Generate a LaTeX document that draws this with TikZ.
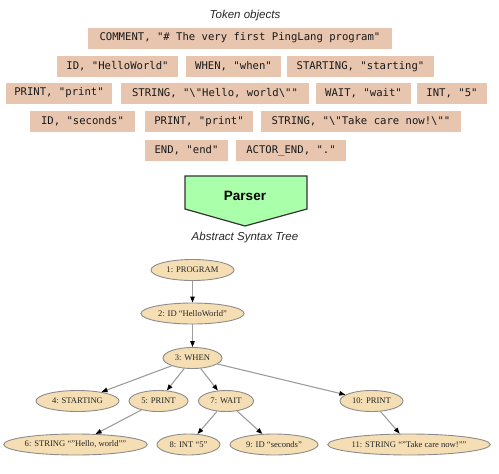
\documentclass[tikz,border=0pt]{standalone}
\usepackage{fontspec}
\setmainfont{Liberation Serif}
\setmonofont{DejaVu Sans Mono}
\newfontfamily\arialfont{Liberation Sans}
\usetikzlibrary{shapes.geometric, arrows.meta}

\definecolor{tokfill}{HTML}{E8C5AE}
\definecolor{astfill}{HTML}{F5DEB3}
\definecolor{astline}{HTML}{8C8C8C}
\definecolor{parsefill}{HTML}{AAFFAA}

\tikzset{
  token/.style={fill=tokfill, minimum height=21pt, inner sep=0pt,
    font=\ttfamily\fontsize{10.6}{12}\selectfont, text=black!90},
  astnode/.style={ellipse, draw=astline, fill=astfill, line width=0.9pt,
    minimum height=21pt, inner sep=0pt,
    font=\fontsize{8.6}{9}\selectfont, text=black!85},
  astedge/.style={draw=astline!85, line width=1.1pt,
    -{Triangle[length=6pt, width=4.5pt, color=black]}},
  caption/.style={font=\arialfont\itshape\fontsize{11.5}{13}\selectfont, text=black!85}
}

\begin{document}
\begin{tikzpicture}[x=1pt, y=-1pt]
    \useasboundingbox (0,0) rectangle (499,474);
    \node[caption] (tokcap) at (245,16) {Token objects};
    % token rows
    \node[token, minimum width=304pt] (comment) at (240,38) {COMMENT, "\# The very first PingLang program"};
    \node[token, minimum width=121pt] (tid) at (117.5,66.5) {ID, "HelloWorld"};
    \node[token, minimum width=95pt] (twhen) at (233.5,66.5) {WHEN, "when"};
    \node[token, minimum width=147pt] (tstart) at (360.5,66.5) {STARTING, "starting"};
    \node[token, minimum width=106pt] (tprint) at (59,93) {PRINT, "print"};
    \node[token, minimum width=188pt] (tstring) at (215,93) {STRING, "\textbackslash"Hello, world\textbackslash""};
    \node[token, minimum width=95pt] (twait) at (363.5,93) {WAIT, "wait"};
    \node[token, minimum width=70pt] (tint) at (452,93) {INT, "5"};
    \node[token, minimum width=105pt] (tsec) at (82.5,121.5) {ID, "seconds"};
    \node[token, minimum width=108pt] (tprinttwo) at (199,121.5) {PRINT, "print"};
    \node[token, minimum width=200pt] (tstringtwo) at (361,121.5) {STRING, "\textbackslash"Take care now!\textbackslash""};
    \node[token, minimum width=83pt] (tend) at (186.5,150.5) {END, "end"};
    \node[token, minimum width=110pt] (tactor) at (291,150.5) {ACTOR\_END, "."};
    % parser arrow
    \filldraw[fill=parsefill, draw=black!80, line width=1.2pt]
      (185,176) -- (307,176) -- (307,209) -- (245,226) -- (185,209) -- cycle;
    \node[font=\arialfont\bfseries\fontsize{13.5}{15}\selectfont] (parser) at (245,196) {Parser};
    \node[caption] (astcap) at (245,238) {Abstract Syntax Tree};
    % syntax tree
    \node[astnode, minimum width=83pt] (prog) at (192.5,270) {1: PROGRAM};
    \node[astnode, minimum width=103pt] (hello) at (192.5,313.5) {2: ID “HelloWorld”};
    \node[astnode, minimum width=59pt] (when) at (192.5,358) {3: WHEN};
    \node[astnode, minimum width=83pt] (starting) at (77.5,401) {4: STARTING};
    \node[astnode, minimum width=59pt] (print) at (158.5,401) {5: PRINT};
    \node[astnode, minimum width=55pt] (wait) at (226,401) {7: WAIT};
    \node[astnode, minimum width=63pt] (printtwo) at (371.5,401) {10: PRINT};
    \node[astnode, minimum width=141pt] (str) at (75.5,444.5) {6: STRING “"Hello, world"”};
    \node[astnode, minimum width=63pt] (int) at (188.5,444.5) {8: INT “5”};
    \node[astnode, minimum width=88pt] (sec) at (274,444.5) {9: ID “seconds”};
    \node[astnode, minimum width=162pt] (strtwo) at (409,444.5) {11: STRING “"Take care now!"”};
    \draw[astedge] (prog) -- (hello);
    \draw[astedge] (hello) -- (when);
    \draw[astedge] (when) -- (starting);
    \draw[astedge] (when) -- (print);
    \draw[astedge] (when) -- (wait);
    \draw[astedge] (when) -- (printtwo);
    \draw[astedge] (print) -- (str);
    \draw[astedge] (wait) -- (int);
    \draw[astedge] (wait) -- (sec);
    \draw[astedge] (printtwo) -- (strtwo);
\end{tikzpicture}
\end{document}
